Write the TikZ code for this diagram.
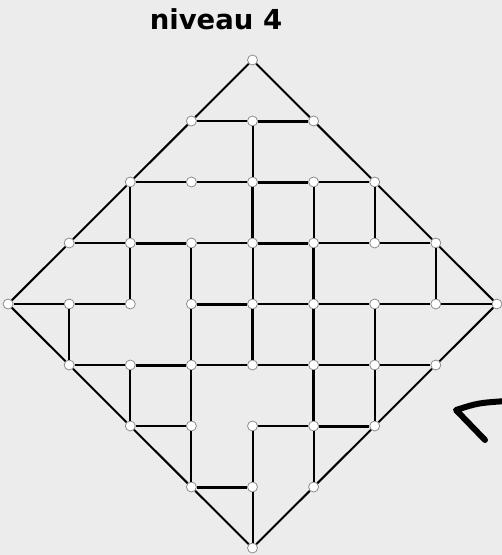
\documentclass[tikz,border=0pt]{standalone}
\usepackage{fontspec}
\setmainfont{DejaVu Sans}
\usetikzlibrary{positioning}
\definecolor{paper}{RGB}{236,236,237}
\definecolor{rim}{RGB}{140,140,140}
\tikzstyle{dot} = [circle, minimum size=10pt, inner sep=0pt, draw=rim, line width=0.8pt, fill=white]
\tikzstyle{wall} = [line width=2pt, black]
\tikzstyle{bold} = [line width=3pt, black]
\tikzstyle{scribble} = [line width=6pt, line cap=round, line join=round, black]

\begin{document}
\begin{tikzpicture}[x=1pt, y=-1pt]

% Background
\fill[paper] (0,0) rectangle (502,555);
\useasboundingbox (0,0) rectangle (502,555);

% Title
\node (title) [anchor=base, inner sep=0pt] at (216,29) {\fontsize{27.5}{32}\selectfont\bfseries niveau 4};

% Grid points, row by row
\node (a5) [dot] at (252.5,60) {};

\node (b4) [dot] at (191.4,121) {}; \node (b5) [dot] at (252.5,121) {}; \node (b6) [dot] at (313.6,121) {};

\node (c3) [dot] at (130.3,182) {}; \node (c4) [dot] at (191.4,182) {}; \node (c5) [dot] at (252.5,182) {};
\node (c6) [dot] at (313.6,182) {}; \node (c7) [dot] at (374.7,182) {};

\node (d2) [dot] at (69.2,243) {}; \node (d3) [dot] at (130.3,243) {}; \node (d4) [dot] at (191.4,243) {};
\node (d5) [dot] at (252.5,243) {}; \node (d6) [dot] at (313.6,243) {}; \node (d7) [dot] at (374.7,243) {};
\node (d8) [dot] at (435.8,243) {};

\node (e1) [dot] at (8.1,304) {}; \node (e2) [dot] at (69.2,304) {}; \node (e3) [dot] at (130.3,304) {};
\node (e4) [dot] at (191.4,304) {}; \node (e5) [dot] at (252.5,304) {}; \node (e6) [dot] at (313.6,304) {};
\node (e7) [dot] at (374.7,304) {}; \node (e8) [dot] at (435.8,304) {}; \node (e9) [dot] at (496.9,304) {};

\node (f2) [dot] at (69.2,365) {}; \node (f3) [dot] at (130.3,365) {}; \node (f4) [dot] at (191.4,365) {};
\node (f5) [dot] at (252.5,365) {}; \node (f6) [dot] at (313.6,365) {}; \node (f7) [dot] at (374.7,365) {};
\node (f8) [dot] at (435.8,365) {};

\node (g3) [dot] at (130.3,426) {}; \node (g4) [dot] at (191.4,426) {}; \node (g5) [dot] at (252.5,426) {};
\node (g6) [dot] at (313.6,426) {}; \node (g7) [dot] at (374.7,426) {};

\node (h4) [dot] at (191.4,487) {}; \node (h5) [dot] at (252.5,487) {}; \node (h6) [dot] at (313.6,487) {};

\node (i5) [dot] at (252.5,548) {};

% Outline
\draw[wall] (a5) -- (b4) -- (c3) -- (d2) -- (e1) -- (f2) -- (g3) -- (h4) -- (i5)
  -- (h6) -- (g7) -- (f8) -- (e9) -- (d8) -- (c7) -- (b6) -- (a5);

% Horizontal walls
\draw[wall] (b4) -- (b5);
\draw[bold] (b5) -- (b6);
\draw[wall] (c3) -- (c4) -- (c5); \draw[bold] (c5) -- (c6); \draw[wall] (c6) -- (c7);
\draw[wall] (d2) -- (d3); \draw[bold] (d3) -- (d4); \draw[wall] (d4) -- (d5);
\draw[bold] (d5) -- (d6); \draw[wall] (d6) -- (d7) -- (d8);
\draw[wall] (e1) -- (e2) -- (e3);
\draw[bold] (e4) -- (e5); \draw[wall] (e5) -- (e6) -- (e7) -- (e8) -- (e9);
\draw[wall] (f2) -- (f3); \draw[bold] (f3) -- (f4); \draw[wall] (f4) -- (f5) -- (f6) -- (f7) -- (f8);
\draw[wall] (g3) -- (g4);
\draw[wall] (g5) -- (g6); \draw[bold] (g6) -- (g7);
\draw[bold] (h4) -- (h5);

% Vertical walls
\draw[wall] (b5) -- (c5);
\draw[wall] (c3) -- (d3); \draw[bold] (c5) -- (d5); \draw[wall] (c6) -- (d6); \draw[wall] (c7) -- (d7);
\draw[wall] (d3) -- (e3); \draw[wall] (d4) -- (e4); \draw[wall] (d5) -- (e5); \draw[bold] (d6) -- (e6); \draw[wall] (d8) -- (e8);
\draw[wall] (e2) -- (f2); \draw[wall] (e4) -- (f4); \draw[bold] (e5) -- (f5); \draw[bold] (e6) -- (f6); \draw[wall] (e7) -- (f7);
\draw[wall] (f3) -- (g3); \draw[wall] (f4) -- (g4); \draw[bold] (f6) -- (g6); \draw[wall] (f7) -- (g7);
\draw[wall] (g4) -- (h4); \draw[wall] (g5) -- (h5); \draw[wall] (g6) -- (h6);
\draw[wall] (h5) -- (i5);

% Hand drawn arrow
\coordinate (tip) at (456,410);
\coordinate (top) at (506,401);
\coordinate (low) at (485,440);
\draw[scribble] (top) .. controls (478,403) .. (tip) -- (low);

\end{tikzpicture}
\end{document}
